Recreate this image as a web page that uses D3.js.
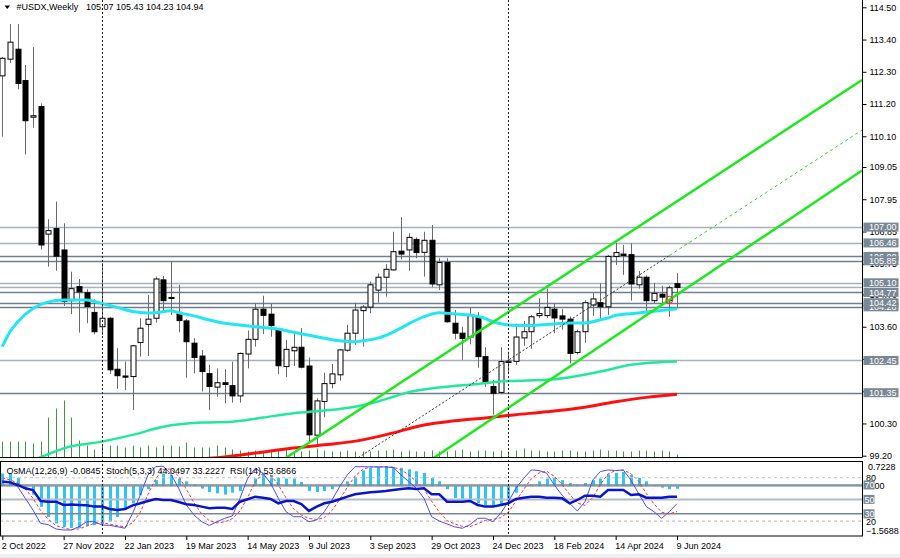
<!DOCTYPE html>
<html><head><meta charset="utf-8">
<script src="https://cdn.jsdelivr.net/npm/d3@7"></script>
<style>
body{margin:0;background:#fff}
svg{display:block}
text{font-family:"Liberation Sans",Arial,sans-serif;font-size:9px;fill:#000}
</style></head><body>
<svg id="c" width="900" height="558"></svg>
<script>
// ---------- DATA ----------
const symbolTitle = "#USDX,Weekly";
const headerOHLC = "105.07 105.43 104.23 104.94";
const opens  = [112.16,112.73,113.07,112.00,110.75,111.11,106.76,106.95,106.22,104.49,104.97,104.76,104.09,103.60,103.89,102.15,101.92,101.90,103.06,103.68,103.89,105.20,104.60,104.09,103.80,103.04,102.60,102.00,101.54,101.69,101.59,101.24,102.67,103.17,104.20,104.03,103.51,102.24,102.78,102.90,102.26,99.90,101.05,101.66,101.96,102.80,103.38,104.15,104.27,104.85,105.29,105.54,106.18,106.22,106.58,106.14,106.55,105.03,105.79,103.72,103.38,103.25,103.95,102.58,101.56,101.36,102.38,102.42,103.22,103.43,103.98,103.98,104.20,103.97,103.86,102.72,103.43,104.34,104.42,104.28,106.00,106.08,106.06,105.03,105.29,104.49,104.71,104.49,105.07];
const highs  = [112.81,113.93,113.93,112.53,113.14,111.22,107.27,107.87,107.13,105.48,105.23,104.88,104.54,105.77,103.94,102.87,102.41,102.98,103.89,104.68,105.31,105.33,105.82,105.03,103.86,103.21,102.81,102.30,102.18,102.15,102.41,102.72,103.47,104.40,104.66,104.38,103.55,103.15,103.43,103.55,102.55,101.16,102.03,102.33,102.84,103.66,104.42,104.34,105.14,105.42,105.74,106.84,107.34,106.79,106.65,106.84,107.07,105.94,105.94,104.17,103.60,104.26,104.10,102.90,101.78,102.90,102.75,103.70,103.80,104.00,104.57,104.90,104.40,104.20,103.95,103.50,104.50,104.75,105.08,106.05,106.47,106.39,106.45,105.50,105.35,105.10,105.00,105.00,105.43];
const lows   = [110.09,112.60,111.70,109.48,110.39,106.24,105.65,105.51,104.31,104.03,103.40,103.72,103.34,103.32,101.99,101.48,101.44,100.76,102.58,102.60,103.74,104.11,104.00,103.41,101.86,102.01,101.39,100.76,101.21,100.99,101.01,101.01,102.18,102.92,103.35,103.26,101.98,101.88,102.26,102.18,99.68,99.57,100.51,101.50,101.76,102.75,102.98,102.92,104.06,104.42,104.63,105.51,105.90,105.51,105.94,105.31,104.95,104.85,103.74,103.17,102.47,103.00,102.20,101.55,100.60,101.30,101.98,102.30,102.95,102.85,103.90,103.90,103.38,103.50,102.35,102.65,103.05,103.97,103.86,104.00,105.71,105.37,104.49,104.90,104.06,104.40,104.35,103.94,104.23];
const closes = [112.76,113.31,111.90,110.63,110.80,106.39,106.88,106.01,104.46,104.90,104.79,104.29,103.43,103.89,102.13,101.93,101.88,102.95,103.55,103.86,105.23,104.49,104.57,103.81,103.09,102.55,102.07,101.56,101.69,101.63,101.24,102.69,103.17,104.20,103.99,103.64,102.27,102.83,102.90,102.22,99.91,101.07,101.66,101.99,102.81,103.38,104.17,104.27,105.03,105.29,105.56,106.16,106.08,106.65,106.13,106.55,105.06,105.79,103.77,103.38,103.20,104.00,102.58,101.70,101.33,102.41,102.42,103.25,103.43,103.94,104.05,104.26,103.90,103.86,102.69,103.43,104.42,104.55,104.28,106.00,106.13,106.03,105.06,105.29,104.49,104.74,104.61,104.93,104.94];
const volumes = [16,16,16,16,14,16,40,49,57,40,17,12,8,12,12,12,10,12,10,12,10,12,12,11,15,10,10,10,12,10,8,
  7,6,7,6,6,7,8,6,6,7,9,7,6,6,7,6,6,6,7,7,8,6,7,6,6,7,6,6,7,8,6,7,7,6,7,6,7,9,7,7,6,6,7,7,6,6,7,8,7,7,6,6,7,7,6,7,6,3];

// moving averages (bar index, price)
const maAquaIdx = [0,1,2,4,6,8,11,13,15,17,19,20,22,23,25,27,29,31,33,36,38,40,42,44,46,47,49,51,53,54,56,57,59,61,63,64,66,68,70,72,74,76,78,79,80,83,85,88];
const maAquaVal = [102.92,103.43,103.76,104.22,104.45,104.51,104.51,104.39,104.26,104.12,104.07,104.08,104.15,104.08,103.97,103.83,103.72,103.66,103.60,103.52,103.41,103.31,103.21,103.12,103.09,103.12,103.21,103.42,103.70,103.83,104.03,104.08,104.04,104.00,103.88,103.77,103.66,103.64,103.66,103.69,103.73,103.73,103.84,103.90,103.99,104.07,104.13,104.21];
const maSpringIdx = [3,6,8,13,17,21,26,30,34,38,42,46,49,51,53,57,62,65,72,78,82,88];
const maSpringVal = [98.95,99.25,99.45,99.68,99.91,100.19,100.33,100.36,100.50,100.65,100.74,100.87,101.05,101.21,101.37,101.53,101.65,101.73,101.81,102.07,102.30,102.41];
const maRedIdx = [23,29,33,38,42,47,51,55,59,63,67,71,75,80,84,88];
const maRedVal = [99.05,99.16,99.29,99.46,99.57,99.74,99.98,100.25,100.39,100.49,100.60,100.70,100.82,101.04,101.19,101.30];

// channel (trend lines): [bar index, price] anchor pairs
const chanUpper  = [[36.61, 99.06],[112.13,112.02]];
const chanLower  = [[55.79, 99.04],[112.13,108.93]];
const chanMidIn  = [[46.0, 99.06],[87.0,106.03]];
const chanMidOut = [[87.0,106.03],[112.13,110.31]];
const markerPoint = [87, 104.52];

// horizontal levels
const levelPrices = [106.00,104.28,104.97,107.00,106.46,105.85,105.10,104.77,104.42,102.45,101.35];
const darkLevels  = [106.00,104.28,105.85,104.77,104.42,101.35];
const levelNoLabel = [104.97];

// axes
const priceTicks = [114.50,113.40,112.30,111.20,110.10,109.05,107.95,106.85,105.75,104.70,103.60,102.50,101.40,100.30,99.20];
const dateIdx    = [0,8,16,24,32,40,48,56,64,72,80,88];
const dateLabels = ["2 Oct 2022","27 Nov 2022","22 Jan 2023","19 Mar 2023","14 May 2023","9 Jul 2023","3 Sep 2023","29 Oct 2023","24 Dec 2023","18 Feb 2024","14 Apr 2024","9 Jun 2024"];
const separatorIdx = [13,66];

// indicators
const osma = [0.40,0.40,0.26,-0.05,-0.27,-0.66,-0.98,-1.19,-1.30,-1.33,-1.33,-1.27,-1.24,-1.21,-1.12,-0.98,-0.76,-0.55,-0.29,-0.10,0.19,0.40,0.35,0.24,0.15,0.05,-0.08,-0.19,-0.23,-0.27,-0.21,-0.16,0.02,0.24,0.40,0.35,0.26,0.24,0.24,0.13,-0.16,-0.19,-0.16,-0.10,0.02,0.15,0.29,0.50,0.58,0.61,0.64,0.61,0.58,0.53,0.47,0.42,0.26,0.15,-0.10,-0.38,-0.40,-0.50,-0.55,-0.60,-0.66,-0.60,-0.48,-0.21,0.01,0.05,0.15,0.24,0.26,0.19,0.10,0.05,0.10,0.19,0.24,0.37,0.42,0.45,0.35,0.26,0.15,0.02,-0.05,-0.10,-0.0845];
const stochMain = [75.5,74.8,67.6,51.5,35.3,16.9,15.0,9.0,7.6,7.6,12.2,19.1,19.1,14.5,14.0,12.2,10.0,30.8,56.1,83.8,95.3,96.0,84.8,65.4,42.3,28.4,19.1,14.0,19.0,23.8,27.0,51.5,79.2,93.1,86.2,72.3,51.5,33.0,26.0,26.0,19.0,21.5,33.0,49.2,67.6,83.8,95.3,95.3,95.0,95.0,95.0,94.0,83.8,75.0,65.4,51.5,26.0,20.0,16.0,12.0,10.0,15.0,23.8,24.0,19.0,30.8,46.8,65.4,79.2,90.8,90.0,86.2,70.0,56.0,44.6,34.0,46.8,76.5,88.6,90.8,90.0,90.8,76.5,58.0,40.0,33.0,23.8,33.0,44.05];
const stochSignal = [80,77,72.6,64.6,51.5,34.6,22.4,13.6,10.5,8.1,9.1,13,16.8,17.6,15.9,13.6,12.1,17.7,32.3,56.9,78.4,91.7,92,82.1,64.2,45.4,29.9,20.5,17.4,18.9,23.3,34.1,52.6,74.6,86.2,83.9,70,52.3,36.8,28.3,23.7,22.2,24.5,34.6,49.9,66.9,82.2,91.5,95.2,95.1,95,94.7,90.9,84.3,74.7,64,47.6,32.5,20.7,16,12.7,12.3,16.3,20.9,22.3,24.6,32.2,47.7,63.8,78.5,86.7,89,82.1,70.7,56.9,44.9,41.8,52.4,70.6,85.3,89.8,90.5,85.8,75.1,58.2,43.7,32.3,29.9,33.2];
const rsi = [74.6,73.6,70,65.4,63,47.8,46.8,46.8,42.3,43,42.3,41.8,40,40,36.7,35.3,36.7,41.8,44.6,47.8,50.6,49.2,49.2,46.3,43.4,42.3,40,37.7,38.4,38.4,36.7,46.8,50.2,53.8,52.4,50.6,44.6,47.8,47.8,43.4,34,40,44.6,46.8,50.2,53.8,57,58.4,59.8,60.7,61.7,63,64.5,65.4,64.5,65.4,57,57,46.8,46.8,46.8,47.8,42.3,40,40,42.3,44.6,50.6,52.4,53.8,53.8,52.4,52.4,51.5,44.6,49.2,55.2,55.2,53.8,63,63,63,56,57,52.4,52.4,52.4,53.8,53.69];
const oscLevelsDotted = [80,20];
const oscLevelsSolid = [70,50,30];
const osmaRange = [-1.5688,0.7228];
const indHeader = ["OsMA(12,26,9) -0.0845","Stoch(5,3,3) 44.0497 33.2227","RSI(14) 53.6866"];

// ---------- DRAW ----------
const svg = d3.select("#c");
const N = closes.length;
const W = 862.5;
const x = d3.scaleLinear().domain([0, N-1]).range([2.3, 677]);
const y = d3.scaleLinear().domain([99.2, 114.5]).range([455.7, 7.3]);
const yVol = d3.scaleLinear().domain([0, 60]).range([457.5, 397.5]);
const yOsc = d3.scaleLinear().domain([0, 100]).range([535.5, 463.3]);
const yOsma = d3.scaleLinear().domain(osmaRange).range([535.5, 463.3]);
const cx = i => Math.round(x(i)) + 0.5;

const defs = svg.append("defs");
defs.append("clipPath").attr("id","mainclip").append("rect").attr("x",0).attr("y",0).attr("width",W).attr("height",457.5);
defs.append("clipPath").attr("id","indclip").append("rect").attr("x",0).attr("y",462).attr("width",W).attr("height",73.5);

const main = svg.append("g").attr("clip-path","url(#mainclip)");
const ind = svg.append("g").attr("clip-path","url(#indclip)");
const idx = d3.range(N);

// level lines
main.selectAll("line.lvl").data(levelPrices).join("line")
  .attr("x1",0).attr("x2",W)
  .attr("y1",d=>Math.round(y(d))+0.5).attr("y2",d=>Math.round(y(d))+0.5)
  .attr("stroke",d=>darkLevels.includes(d)?"#6f7f8f":"#a7b1bb").attr("stroke-width",1.3);

// volumes
main.selectAll("line.vol").data(idx).join("line")
  .attr("x1",cx).attr("x2",cx).attr("y1",yVol(0)).attr("y2",i=>yVol(volumes[i]))
  .attr("stroke","#3c9a3c").attr("stroke-width",1);

// separators
svg.selectAll("line.sep").data(separatorIdx).join("line")
  .attr("x1",cx).attr("x2",cx).attr("y1",0).attr("y2",536)
  .attr("stroke","#222").attr("stroke-width",1).attr("stroke-dasharray","2,2");

// candles
main.selectAll("line.wick").data(idx).join("line")
  .attr("x1",cx).attr("x2",cx).attr("y1",i=>y(highs[i])).attr("y2",i=>y(lows[i]))
  .attr("stroke","#6a6a6a").attr("stroke-width",1);
main.selectAll("rect.body").data(idx).join("rect")
  .attr("x",i=>cx(i)-2.5).attr("width",5)
  .attr("y",i=>y(Math.max(opens[i],closes[i])))
  .attr("height",i=>Math.max(1,Math.abs(y(opens[i])-y(closes[i]))))
  .attr("fill",i=>closes[i]>=opens[i]?"#fff":"#000")
  .attr("stroke","#000").attr("stroke-width",1);

// moving averages
const maLine = d3.line().x(d=>x(d[0])).y(d=>y(d[1])).curve(d3.curveMonotoneX);
const zipMA = (a,b)=>a.map((d,k)=>[d,b[k]]);
main.append("path").datum(zipMA(maRedIdx,maRedVal)).attr("d",maLine)
  .attr("fill","none").attr("stroke","#ff1010").attr("stroke-width",3);
main.append("path").datum(zipMA(maSpringIdx,maSpringVal)).attr("d",maLine)
  .attr("fill","none").attr("stroke","#22e89a").attr("stroke-width",2.5);
main.append("path").datum(zipMA(maAquaIdx,maAquaVal)).attr("d",maLine)
  .attr("fill","none").attr("stroke","#22e6f0").attr("stroke-width",3);

// channel
const straight = d3.line().x(d=>x(d[0])).y(d=>y(d[1]));
main.append("path").datum(chanUpper).attr("d",straight).attr("stroke","#1ee81e").attr("stroke-width",2.5).attr("fill","none");
main.append("path").datum(chanLower).attr("d",straight).attr("stroke","#1ee81e").attr("stroke-width",2.5).attr("fill","none");
main.append("path").datum(chanMidIn).attr("d",straight).attr("stroke","#333").attr("stroke-width",1).attr("stroke-dasharray","2,2").attr("fill","none");
main.append("path").datum(chanMidOut).attr("d",straight).attr("stroke","#22dd22").attr("stroke-width",1).attr("stroke-dasharray","3,3").attr("fill","none");
main.append("circle").attr("cx",x(markerPoint[0])).attr("cy",y(markerPoint[1])).attr("r",3.5)
  .attr("fill","none").attr("stroke","#ff2020").attr("stroke-width",1);

// frames
svg.append("line").attr("x1",0).attr("x2",W).attr("y1",457.5).attr("y2",457.5).attr("stroke","#000");
svg.append("line").attr("x1",W).attr("x2",W).attr("y1",0).attr("y2",457.5).attr("stroke","#000");
svg.append("rect").attr("x",0.5).attr("y",461.5).attr("width",W-0.5).attr("height",74.5).attr("fill","none").attr("stroke","#000");

// price axis
const ya = svg.append("g").attr("transform",`translate(${W},0)`)
  .call(d3.axisRight(y).tickValues(priceTicks).tickSize(4).tickPadding(3).tickFormat(d3.format(".2f")));
ya.select(".domain").remove();
ya.selectAll("text").style("font-family","'Liberation Sans',Arial,sans-serif").style("font-size","9px").attr("fill","#000");
ya.selectAll("line").attr("stroke","#000");

// level boxes
const lb = svg.selectAll("g.lb").data(levelPrices.filter(d=>!levelNoLabel.includes(d))).join("g");
lb.append("rect").attr("x",863.5).attr("width",35).attr("y",d=>y(d)-4.5).attr("height",9).attr("fill","#7a8896");
lb.append("text").attr("x",869).attr("y",d=>y(d)).attr("dy","0.35em").text(d=>d3.format(".2f")(d)).style("fill","#fff");

// header
svg.append("path").attr("d","M4.5,5.5L10,5.5L7.25,9Z").attr("fill","#000");
svg.append("text").attr("x",16.5).attr("y",10).text(symbolTitle);
svg.append("text").attr("x",86).attr("y",10).text(headerOHLC);

// indicator window
ind.selectAll("rect.osma").data(idx).join("rect")
  .attr("x",i=>cx(i)-1.5).attr("width",3)
  .attr("y",i=>Math.min(yOsma(0),yOsma(osma[i])))
  .attr("height",i=>Math.abs(yOsma(osma[i])-yOsma(0)))
  .attr("fill","#2cc6f5");
ind.selectAll("line.od").data(oscLevelsDotted).join("line")
  .attr("x1",0).attr("x2",W).attr("y1",d=>yOsc(d)).attr("y2",d=>yOsc(d))
  .attr("stroke","#c4c4c4").attr("stroke-width",1.2).attr("stroke-dasharray","3,3");
ind.selectAll("line.os").data(oscLevelsSolid).join("line")
  .attr("x1",0).attr("x2",W).attr("y1",d=>yOsc(d)).attr("y2",d=>yOsc(d))
  .attr("stroke",d=>d===50?"#b4bcc4":"#7a8896").attr("stroke-width",d=>d===50?2:1.5);
ind.append("line").attr("x1",0).attr("x2",W).attr("y1",yOsma(0)).attr("y2",yOsma(0)).attr("stroke","#7a8896").attr("stroke-width",1);
const oscLine = arr => d3.line().x((d,i)=>x(i)).y(d=>yOsc(d))(arr);
ind.append("path").attr("d",oscLine(stochSignal)).attr("fill","none").attr("stroke","#ff3030").attr("stroke-width",1).attr("stroke-dasharray","3,2");
ind.append("path").attr("d",oscLine(stochMain)).attr("fill","none").attr("stroke","#4a4aff").attr("stroke-width",1);
ind.append("path").attr("d",oscLine(rsi)).attr("fill","none").attr("stroke","#0a14c8").attr("stroke-width",2.5);

// indicator header, placed one after another
let hx = 6.5;
const hStarts = [6.5,106,226];
indHeader.forEach((t,k)=>{
  const xx = Math.max(hStarts[k], hx);
  const node = svg.append("text").attr("x",xx).attr("y",474).text(t);
  hx = xx + node.node().getComputedTextLength() + 5;
});

// indicator axis labels
svg.append("text").attr("x",868).attr("y",yOsma(osmaRange[1])+4).attr("dy","0.35em").text(d3.format(".4f")(osmaRange[1]));
svg.append("text").attr("x",866).attr("y",yOsma(osmaRange[0])-5).attr("dy","0.35em").text(d3.format(".4f")(osmaRange[0]));
svg.append("text").attr("x",866).attr("y",yOsc(80)).attr("dy","0.35em").text("80");
svg.append("text").attr("x",866).attr("y",yOsc(20)+1).attr("dy","0.35em").text("20");
svg.append("text").attr("x",867).attr("y",yOsma(0)).attr("dy","0.35em").text("0.00");
const ob = svg.selectAll("g.ob").data(oscLevelsSolid).join("g");
ob.append("rect").attr("x",863.5).attr("width",11).attr("y",d=>yOsc(d)-4.5).attr("height",9).attr("fill","#7a8896");
ob.append("text").attr("x",864.5).attr("y",d=>yOsc(d)).attr("dy","0.35em").text(d=>d).style("fill","#fff");

// time axis
const xa = svg.append("g").attr("transform","translate(0,536)")
  .call(d3.axisBottom(x).tickValues(dateIdx).tickSize(4).tickPadding(3).tickFormat((d,i)=>dateLabels[i]));
xa.select(".domain").remove();
xa.selectAll("text").attr("text-anchor","start").attr("dx","-1")
  .style("font-family","'Liberation Sans',Arial,sans-serif").style("font-size","9px").attr("fill","#000");
xa.selectAll("line").attr("stroke","#000");
svg.append("rect").attr("x",0).attr("y",554).attr("width",900).attr("height",4).attr("fill","#f0f0f0");
</script></body></html>
